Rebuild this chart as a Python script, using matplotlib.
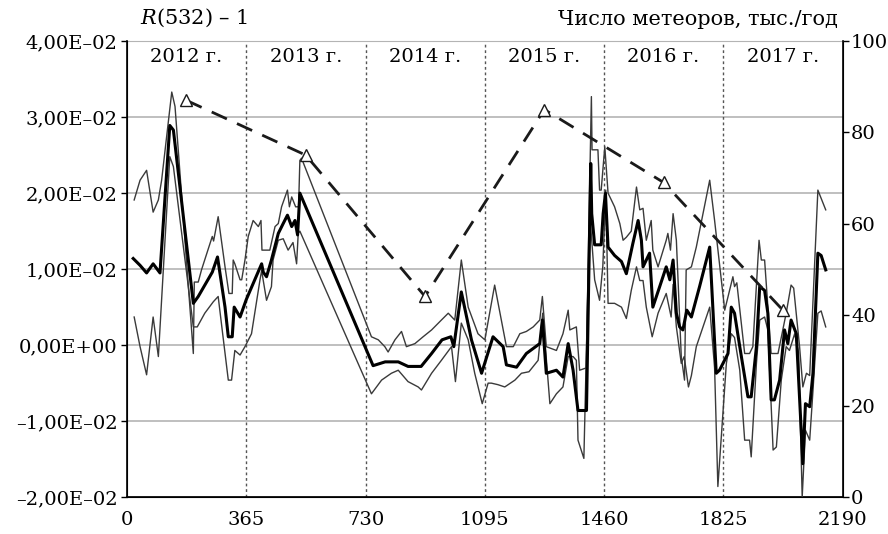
import matplotlib
matplotlib.use('Agg')
import matplotlib.pyplot as plt
import numpy as np

plt.rcParams['font.family'] = 'DejaVu Serif'
plt.rcParams['mathtext.fontset'] = 'dejavuserif'

# R(532) - 1 : mean curve (thick) and envelope (thin)
mid_day = [19, 40, 60, 80, 101, 131, 142, 203, 218, 261, 277, 300, 310, 322, 328, 346,
           365, 412, 417, 427, 442, 463, 478, 491, 504, 514, 522, 529, 753, 790, 830, 860,
           900, 932, 964, 991, 1000, 1023, 1054, 1085, 1120, 1151, 1161, 1192, 1222, 1263,
           1271, 1283, 1314, 1334, 1350, 1365, 1380, 1406, 1419, 1422, 1431, 1451, 1457,
           1464, 1472, 1492, 1513, 1528, 1548, 1564, 1574, 1579, 1599, 1609, 1630, 1650,
           1661, 1671, 1681, 1691, 1701, 1713, 1727, 1752, 1783, 1803, 1813, 1839, 1849,
           1859, 1875, 1900, 1910, 1926, 1936, 1951, 1961, 1971, 1981, 1997, 2012, 2022,
           2032, 2048, 2063, 2068, 2076, 2089, 2099, 2114, 2124, 2138]
mid_r = [0.0114, 0.0105, 0.0095, 0.0107, 0.0095, 0.0289, 0.0283, 0.0055, 0.0064, 0.0096,
         0.0116, 0.0050, 0.0011, 0.0011, 0.0050, 0.0037, 0.0060, 0.0107, 0.0096, 0.0090,
         0.0112, 0.0147, 0.0160, 0.0171, 0.0156, 0.0164, 0.0145, 0.0200, -0.0027, -0.0022,
         -0.0022, -0.0028, -0.0028, -0.0011, 0.0007, 0.0011, -0.0002, 0.0070, 0.0007,
         -0.0037, 0.0011, -0.0002, -0.0026, -0.0029, -0.0011, 0.0002, 0.0033, -0.0037,
         -0.0033, -0.0042, 0.0002, -0.0033, -0.0086, -0.0086, 0.0239, 0.0173, 0.0132,
         0.0132, 0.0173, 0.0200, 0.0129, 0.0118, 0.0110, 0.0094, 0.0134, 0.0164, 0.0138,
         0.0103, 0.0121, 0.0050, 0.0077, 0.0103, 0.0086, 0.0112, 0.0042, 0.0024, 0.0020,
         0.0046, 0.0037, 0.0077, 0.0129, -0.0037, -0.0033, -0.0011, 0.0050, 0.0042,
         -0.0002, -0.0068, -0.0068, -0.0002, 0.0077, 0.0072, 0.0042, -0.0072, -0.0072,
         -0.0046, 0.0020, 0.0002, 0.0033, 0.0015, -0.0112, -0.0156, -0.0077, -0.0081,
         -0.0037, 0.0121, 0.0118, 0.0099]

up_day = [22, 40, 60, 80, 96, 106, 137, 147, 203, 206, 218, 228, 261, 265, 279, 300, 312,
          322, 325, 330, 346, 351, 361, 371, 386, 402, 410, 413, 437, 453, 463, 473, 491,
          497, 504, 516, 525, 529, 534, 728, 748, 769, 789, 799, 820, 840, 855, 881, 906,
          932, 962, 983, 1003, 1023, 1044, 1074, 1095, 1125, 1161, 1182, 1202, 1222, 1243,
          1263, 1271, 1283, 1314, 1334, 1350, 1355, 1375, 1385, 1405, 1421, 1423, 1441,
          1446, 1451, 1462, 1472, 1492, 1508, 1518, 1528, 1543, 1559, 1569, 1579, 1589,
          1604, 1609, 1625, 1650, 1655, 1663, 1671, 1681, 1696, 1706, 1711, 1727, 1742,
          1783, 1798, 1829, 1854, 1859, 1866, 1890, 1905, 1915, 1934, 1941, 1951, 1971,
          1992, 2017, 2032, 2040, 2058, 2068, 2079, 2089, 2114, 2138]
up_r = [0.0191, 0.0217, 0.0230, 0.0175, 0.0191, 0.0217, 0.0333, 0.0314, -0.0011, 0.0083,
        0.0083, 0.0099, 0.0143, 0.0137, 0.0169, 0.0103, 0.0068, 0.0068, 0.0112, 0.0107,
        0.0086, 0.0086, 0.0112, 0.0143, 0.0164, 0.0156, 0.0164, 0.0125, 0.0125, 0.0156,
        0.0160, 0.0182, 0.0204, 0.0182, 0.0195, 0.0182, 0.0182, 0.0243, 0.0246, 0.0033,
        0.0011, 0.0007, -0.0002, -0.0009, 0.0007, 0.0018, -0.0002, 0.0002, 0.0011, 0.0020,
        0.0033, 0.0042, 0.0033, 0.0112, 0.0050, 0.0015, 0.0007, 0.0079, -0.0002, -0.0002,
        0.0015, 0.0018, 0.0024, 0.0033, 0.0064, -0.0002, -0.0007, 0.0015, 0.0046, 0.0020,
        0.0024, -0.0033, -0.0030, 0.0327, 0.0257, 0.0257, 0.0204, 0.0204, 0.0261, 0.0200,
        0.0182, 0.0160, 0.0138, 0.0142, 0.0150, 0.0208, 0.0178, 0.0180, 0.0138, 0.0164,
        0.0125, 0.0103, 0.0138, 0.0147, 0.0125, 0.0173, 0.0138, -0.0015, -0.0046, 0.0099,
        0.0103, 0.0129, 0.0217, 0.0164, 0.0046, 0.0090, 0.0077, 0.0082, -0.0011, -0.0011,
        -0.0002, 0.0138, 0.0112, 0.0112, -0.0011, -0.0011, 0.0042, 0.0079, 0.0075, -0.0002,
        -0.0055, -0.0037, -0.0040, 0.0204, 0.0178]

lo_day = [22, 40, 60, 80, 96, 131, 142, 203, 215, 238, 264, 279, 295, 310, 320, 330, 346,
          361, 381, 407, 412, 427, 442, 447, 463, 478, 493, 508, 519, 524, 529, 748, 779,
          809, 830, 860, 891, 901, 932, 962, 993, 1005, 1023, 1044, 1064, 1087, 1105, 1115,
          1135, 1156, 1187, 1207, 1230, 1258, 1272, 1294, 1314, 1334, 1350, 1365, 1375,
          1380, 1398, 1406, 1416, 1431, 1446, 1456, 1465, 1472, 1492, 1513, 1528, 1543,
          1559, 1569, 1579, 1589, 1607, 1625, 1650, 1665, 1671, 1681, 1696, 1705, 1718,
          1727, 1742, 1783, 1798, 1808, 1834, 1849, 1859, 1875, 1890, 1905, 1910, 1926,
          1936, 1951, 1961, 1977, 1987, 2002, 2017, 2027, 2043, 2055, 2066, 2076, 2089,
          2099, 2114, 2124, 2138]
lo_r = [0.0037, -0.0002, -0.0039, 0.0037, -0.0015, 0.0248, 0.0235, 0.0024, 0.0024, 0.0042,
        0.0057, 0.0064, 0.0007, -0.0046, -0.0046, -0.0007, -0.0013, -0.0002, 0.0015, 0.0086,
        0.0098, 0.0059, 0.0077, 0.0112, 0.0138, 0.0140, 0.0125, 0.0135, 0.0107, 0.0147,
        0.0150, -0.0064, -0.0046, -0.0037, -0.0033, -0.0048, -0.0055, -0.0059, -0.0037,
        -0.0020, -0.0002, -0.0048, 0.0029, 0.0007, -0.0037, -0.0077, -0.0050, -0.0050,
        -0.0052, -0.0055, -0.0046, -0.0037, -0.0035, -0.0020, 0.0042, -0.0077, -0.0064,
        -0.0055, -0.0015, -0.0015, -0.0020, -0.0125, -0.0149, -0.0002, 0.0173, 0.0086,
        0.0059, 0.0104, 0.0204, 0.0055, 0.0055, 0.0050, 0.0035, 0.0072, 0.0103, 0.0085,
        0.0085, 0.0050, 0.0011, 0.0042, 0.0068, 0.0037, 0.0080, 0.0024, -0.0024, -0.0015,
        -0.0055, -0.0040, -0.0002, 0.0050, -0.0030, -0.0186, -0.0024, 0.0015, 0.0010,
        -0.0033, -0.0125, -0.0125, -0.0147, -0.0024, 0.0033, 0.0037, 0.0020, -0.0138,
        -0.0134, -0.0046, -0.0002, -0.0007, 0.0015, -0.0010, -0.0200, -0.0112, -0.0125,
        -0.0060, 0.0042, 0.0045, 0.0024]

# meteor counts, thousands per year (mid-year points)
met_day = [182, 547, 912, 1277, 1642, 2007]
met_count = [87, 75, 44, 85, 69, 41]

years = ['2012 г.', '2013 г.', '2014 г.', '2015 г.', '2016 г.', '2017 г.']
x_ticks = [0, 365, 730, 1095, 1460, 1825, 2190]
r_ticks = [-0.02, -0.01, 0.0, 0.01, 0.02, 0.03, 0.04]


def sci_label(v):
    s = f'{v:.2E}'.replace('.', ',').replace('-', '–')
    return s


fig = plt.figure(figsize=(8.88, 5.34), dpi=100)
ax = fig.add_axes([0.143, 0.069, 0.806, 0.854])

for y in r_ticks:
    ax.axhline(y, color='#b4b4b4', lw=1.2, zorder=1)
for x in x_ticks[1:-1]:
    ax.axvline(x, color='#555555', lw=1.0, ls=(0, (2, 2)), zorder=1)

ax.plot(up_day, up_r, color='#3a3a3a', lw=1.0, zorder=3)
ax.plot(lo_day, lo_r, color='#3a3a3a', lw=1.0, zorder=3)
ax.plot(mid_day, mid_r, color='black', lw=2.2, zorder=4)

for i, name in enumerate(years):
    ax.text(182 + 365 * i, 0.0379, name, ha='center', va='center', fontsize=14)

ax.set_xlim(0, 2190)
ax.set_ylim(-0.02, 0.04)
ax.set_xticks(x_ticks)
ax.set_xticklabels([str(t) for t in x_ticks], fontsize=14)
ax.set_yticks(r_ticks)
ax.set_yticklabels([sci_label(v) for v in r_ticks], fontsize=14)
ax.tick_params(axis='x', length=0, pad=10)
ax.tick_params(axis='y', length=4, width=1, direction='out', pad=3)
ax.spines['top'].set_color('#b4b4b4')
for s in ['left', 'bottom']:
    ax.spines[s].set_linewidth(1.2)

ax2 = ax.twinx()
ax2.plot(met_day, met_count, color='#1a1a1a', lw=2.0, ls=(0, (6, 4)),
         marker='^', markersize=9, markerfacecolor='white',
         markeredgecolor='#1a1a1a', markeredgewidth=1.0, zorder=5)
ax2.set_ylim(0, 100)
ax2.set_yticks([0, 20, 40, 60, 80, 100])
ax2.tick_params(axis='y', length=4, width=1, direction='out', labelsize=14, pad=2)
ax2.spines['right'].set_linewidth(1.2)
ax2.spines['top'].set_visible(False)

fig.text(0.158, 0.966, '$R$(532) – 1', fontsize=15, ha='left', va='center')
fig.text(0.944, 0.963, 'Число метеоров, тыс./год', fontsize=15, ha='right', va='center')

fig.savefig('out.png', dpi=100)
